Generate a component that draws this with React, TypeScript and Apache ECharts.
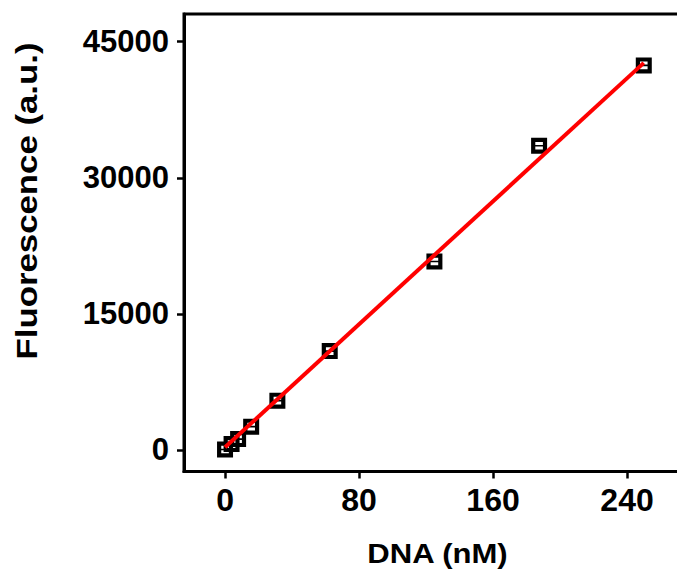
import React, { useEffect, useRef } from "react";
import * as echarts from "echarts";

const dnaConc = [0, 3.9, 7.8, 15.6, 31.25, 62.5, 125, 187.5, 250];
const fluorescence = [50, 650, 1200, 2570, 5440, 10900, 20770, 33530, 42390];
const fitX = [0, 250];
const fitY = [300, 42670];
const xTicks = [0, 80, 160, 240];
const yTicks = [0, 15000, 30000, 45000];
const xTitle = "DNA (nM)";
const yTitle = "Fluorescence (a.u.)";

const FONT = '"Liberation Sans", Arial, Helvetica, sans-serif';
const MARKER =
  "path://M0,0H16V16H0Z M4.2,4.2V7.2H11.8V4.2Z M4.2,8.8V11.8H11.8V8.8Z";

export default function App() {
  const ref = useRef<HTMLDivElement>(null);
  useEffect(() => {
    if (!ref.current) return;
    const chart = echarts.init(ref.current, null, { renderer: "svg" });
    chart.setOption({
      animation: false,
      backgroundColor: "#fff",
      grid: {
        left: 184,
        top: 14,
        width: 503,
        bottom: 99.5,
        outerBoundsMode: "none",
        containLabel: false,
        show: true,
        borderColor: "#000",
        borderWidth: 3,
        backgroundColor: "transparent",
      },
      xAxis: {
        type: "value",
        min: -24.5,
        max: 275.8,
        splitLine: { show: false },
        axisLine: { show: true, onZero: false, lineStyle: { color: "#000", width: 3 } },
        axisTick: {
          show: true,
          inside: false,
          length: 7,
          lineStyle: { color: "#000", width: 2.5 },
          customValues: xTicks,
        },
        axisLabel: {
          customValues: xTicks,
          formatter: (v: number) => String(v),
          margin: 12,
          color: "#000",
          fontSize: 32,
          fontWeight: "bold",
          fontFamily: FONT,
        },
      },
      yAxis: {
        type: "value",
        min: -2371,
        max: 48055,
        splitLine: { show: false },
        axisLine: { show: true, onZero: false, lineStyle: { color: "#000", width: 3 } },
        axisTick: {
          show: true,
          inside: false,
          length: 7,
          lineStyle: { color: "#000", width: 2.5 },
          customValues: yTicks,
        },
        axisLabel: {
          customValues: yTicks,
          formatter: (v: number) => String(v),
          margin: 15,
          color: "#000",
          fontSize: 31,
          fontWeight: "bold",
          fontFamily: FONT,
        },
      },
      graphic: [
        {
          type: "text",
          x: 27,
          y: 201,
          rotation: Math.PI / 2,
          scaleX: 1.2,
          style: {
            text: yTitle,
            fill: "#000",
            fontSize: 29,
            fontWeight: "bold",
            fontFamily: FONT,
            textAlign: "center",
            textVerticalAlign: "middle",
          },
        },
        {
          type: "text",
          x: 437.5,
          y: 552.7,
          scaleX: 1.11,
          style: {
            text: xTitle,
            fill: "#000",
            fontSize: 28,
            fontWeight: "bold",
            fontFamily: FONT,
            textAlign: "center",
            textVerticalAlign: "middle",
          },
        },
      ],
      series: [
        {
          type: "scatter",
          data: dnaConc.map((x, i) => [x, fluorescence[i]]),
          symbol: MARKER,
          symbolSize: [16, 16],
          itemStyle: { color: "#000", opacity: 1 },
          z: 2,
        },
        {
          type: "line",
          data: fitX.map((x, i) => [x, fitY[i]]),
          showSymbol: false,
          symbol: "none",
          lineStyle: { color: "#ff0000", width: 4 },
          z: 3,
        },
      ],
    });
    return () => chart.dispose();
  }, []);
  return (
    <div
      ref={ref}
      style={{ position: "fixed", left: 0, top: 0, width: 677, height: 571 }}
    />
  );
}
